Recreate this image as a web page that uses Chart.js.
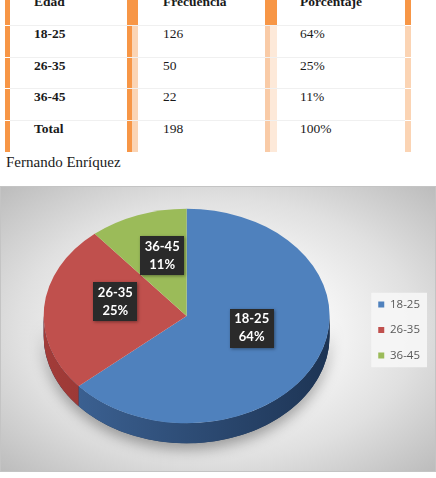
<!DOCTYPE html>
<html>
<head>
<meta charset="utf-8">
<script src="https://cdn.jsdelivr.net/npm/chart.js@4.4.0/dist/chart.umd.min.js"></script>
<style>
body { margin: 0; width: 436px; height: 478px; overflow: hidden; background: #fff; position: relative; font-family: "Liberation Serif", serif; }
#tabla { position: absolute; left: 0; top: 0; width: 436px; height: 152px; overflow: hidden; }
.celda { position: absolute; font-size: 13.5px; color: #1a1a1a; line-height: 16px; white-space: nowrap; }
.barra { position: absolute; }
#fuente { position: absolute; left: 6px; top: 153px; font-size: 15px; line-height: 18px; color: #1a1a1a; }
#caja { position: absolute; left: 0; top: 186px; width: 436px; height: 286px; box-sizing: border-box; border: 1px solid #c4c4c4;
  background: radial-gradient(ellipse at 50% 50%, #ffffff 0%, #fafafa 30%, #e0e0e0 65%, #bcbcbc 100%); }
#grafico { position: absolute; left: 0; top: 0; }
</style>
</head>
<body>
<div id="tabla"></div>
<div id="fuente">Fernando Enríquez</div>
<div id="caja"><canvas id="grafico" width="436" height="286"></canvas></div>
<script>
const edades = ['18-25', '26-35', '36-45'];
const frecuencias = [126, 50, 22];
const porcentajes = [64, 25, 11];
const encabezados = ['Edad', 'Frecuencia', 'Porcentaje'];

const colores = ['#4f81bd', '#c0504d', '#9bbb59'];
const coloresLado = [['#3f6699', '#1d3454'], ['#a23c39', '#7a2522'], ['#7f9a48', '#5f7434']];

// ---- tabla ----
const tabla = document.getElementById('tabla');
const total = frecuencias.reduce((a, b) => a + b, 0);
const filas = [encabezados]
  .concat(edades.map((e, i) => [e, frecuencias[i], porcentajes[i] + '%']))
  .concat([['Total', total, '100%']]);
const bordes = [-10, 25, 57, 88, 120, 152];
const colX = [34, 163, 300];

function caja(x, y, w, h, color) {
  const d = document.createElement('div');
  d.className = 'barra';
  d.style.cssText = `left:${x}px;top:${y}px;width:${w}px;height:${h}px;background:${color}`;
  tabla.appendChild(d);
}

filas.forEach((fila, r) => {
  const y0 = bordes[r] + 1, h = bordes[r + 1] - y0;
  if (r > 0) caja(10, bordes[r], 395, 1, '#f0f0f0');
  caja(5, y0, 5, h, '#f79646');
  if (r === 0) {
    caja(127, y0, 11, h, '#f79646');
    caja(265, y0, 12, h, '#f79646');
    caja(405, y0, 6, h, '#f79646');
  } else {
    caja(127, y0, 5, h, '#f79646');
    caja(132, y0, 6, h, '#fbd4b4');
    caja(265, y0, 5, h, '#f9cba7');
    caja(270, y0, 7, h, '#fde9d9');
    caja(405, y0, 6, h, '#fbd4b4');
  }
  fila.forEach((txt, c) => {
    const d = document.createElement('div');
    d.className = 'celda';
    d.textContent = txt;
    d.style.left = colX[c] + 'px';
    d.style.top = (2 + 31.8 * r - 8) + 'px';
    if (r === 0 || c === 0) d.style.fontWeight = 'bold';
    tabla.appendChild(d);
  });
});

// ---- grafico 3D ----
const K = 0.75;      // aplastamiento vertical
const PROF = 20;     // grosor del pastel
const SUBIR = 14;    // desplazamiento hacia arriba del pastel
const ELEVAR = 10;   // ajuste de perspectiva de etiquetas

const pie3d = {
  id: 'pie3d',
  beforeDraw(chart) {
    const lg = chart.legend;
    if (!lg || !lg.legendHitBoxes.length) return;
    const hb = lg.legendHitBoxes;
    const l = Math.min(...hb.map(b => b.left)) - 7;
    const t = Math.min(...hb.map(b => b.top)) - 6;
    const r = Math.max(...hb.map(b => b.left + b.width)) + 7;
    const b = Math.max(...hb.map(b => b.top + b.height)) + 6;
    chart.ctx.save();
    chart.ctx.fillStyle = 'rgba(246,246,246,0.9)';
    chart.ctx.fillRect(l, t, r - l, b - t);
    chart.ctx.restore();
  },
  beforeDatasetsDraw(chart) {
    const ctx = chart.ctx;
    const arcs = chart.getDatasetMeta(0).data;
    const {x, y, outerRadius: r} = arcs[0];
    const cy = y - SUBIR;
    ctx.save();
    // silueta con sombra
    ctx.shadowColor = 'rgba(0,0,0,0.35)';
    ctx.shadowBlur = 14;
    ctx.shadowOffsetY = 6;
    ctx.fillStyle = '#1d3454';
    ctx.beginPath();
    ctx.ellipse(x, cy, r, r * K, 0, 0, Math.PI);
    ctx.ellipse(x, cy + PROF, r, r * K, 0, Math.PI, 0, true);
    ctx.closePath();
    ctx.fill();
    ctx.shadowColor = 'transparent';
    arcs.forEach((arc, i) => {
      [[0, Math.PI], [2 * Math.PI, 3 * Math.PI]].forEach(([lo, hi]) => {
        const a0 = Math.max(arc.startAngle, lo), a1 = Math.min(arc.endAngle, hi);
        if (a1 <= a0) return;
        const g = ctx.createLinearGradient(x - r, 0, x + r, 0);
        g.addColorStop(0, coloresLado[i][0]);
        g.addColorStop(1, coloresLado[i][1]);
        ctx.fillStyle = g;
        ctx.beginPath();
        ctx.ellipse(x, cy, r, r * K, 0, a0, a1);
        ctx.ellipse(x, cy + PROF, r, r * K, 0, a1, a0, true);
        ctx.closePath();
        ctx.fill();
      });
    });
    ctx.restore();
    ctx.save();
    ctx.translate(0, cy);
    ctx.scale(1, K);
    ctx.translate(0, -y);
  },
  afterDatasetsDraw(chart) {
    const ctx = chart.ctx;
    ctx.restore();
    const arcs = chart.getDatasetMeta(0).data;
    const {y} = arcs[0];
    const cy = y - SUBIR;
    ctx.save();
    ctx.font = 'bold 13px Lato';
    ctx.textAlign = 'center';
    ctx.textBaseline = 'middle';
    arcs.forEach((arc, i) => {
      const p = arc.tooltipPosition();
      const px = p.x, py = cy + (p.y - y) * K - ELEVAR;
      const l1 = edades[i], l2 = porcentajes[i] + '%';
      const w = Math.max(ctx.measureText(l1).width, ctx.measureText(l2).width) + 9;
      const h = 39;
      ctx.shadowColor = 'rgba(0,0,0,0.4)';
      ctx.shadowBlur = 3;
      ctx.shadowOffsetX = 1;
      ctx.shadowOffsetY = 1;
      ctx.fillStyle = '#2a2a2a';
      ctx.fillRect(Math.round(px - w / 2), Math.round(py - h / 2), Math.round(w), h);
      ctx.shadowColor = 'transparent';
      ctx.fillStyle = '#ffffff';
      ctx.fillText(l1, px, py - 9);
      ctx.fillText(l2, px, py + 9);
    });
    ctx.restore();
  }
};

new Chart(document.getElementById('grafico'), {
  type: 'pie',
  data: {
    labels: edades,
    datasets: [{
      data: frecuencias,
      backgroundColor: colores,
      borderWidth: 0,
      clip: false
    }]
  },
  options: {
    responsive: false,
    animation: false,
    layout: { padding: { left: 8, right: 7 } },
    plugins: {
      legend: {
        position: 'right',
        labels: {
          boxWidth: 6,
          boxHeight: 6,
          padding: 14,
          color: '#595959',
          font: { family: 'Open Sans', size: 11.5 }
        }
      },
      tooltip: { enabled: false }
    }
  },
  plugins: [pie3d]
});
</script>
</body>
</html>
